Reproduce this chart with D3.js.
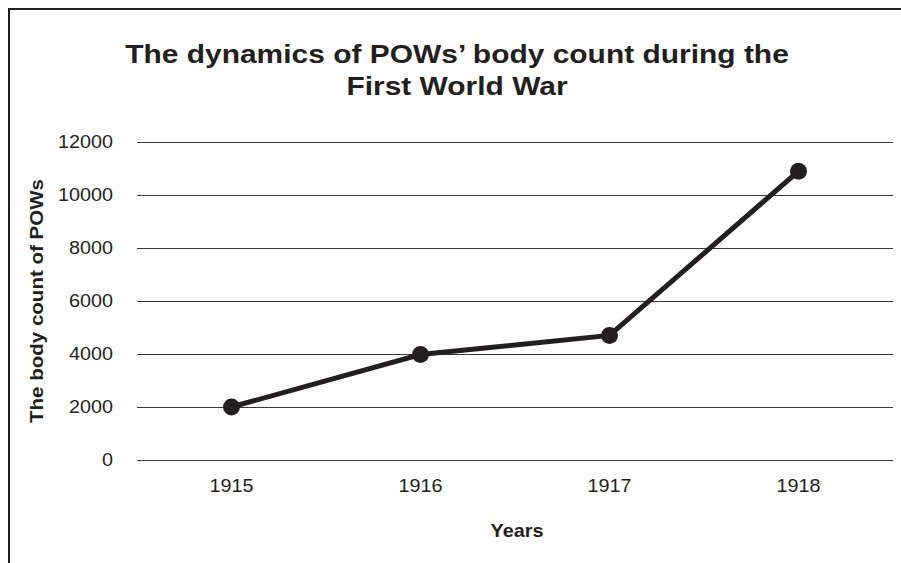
<!DOCTYPE html>
<html>
<head>
<meta charset="utf-8">
<script src="https://cdn.jsdelivr.net/npm/d3@7"></script>
<style>
  body { margin: 0; background: #fff; }
  text { font-family: "Liberation Sans", Arial, sans-serif; fill: #231f20; }
</style>
</head>
<body>
<div id="chart"></div>
<script>
var years = ["1915", "1916", "1917", "1918"];
var bodyCount = [2000, 3980, 4700, 10900];
var yTicks = [0, 2000, 4000, 6000, 8000, 10000, 12000];
var titleLines = ["The dynamics of POWs\u2019 body count during the", "First World War"];

var width = 901,
    height = 563,
    margin = {top: 142, right: 8, bottom: 103, left: 137};

// the source type is a little wider than Liberation Sans
var stretch = 1.1;

var svg = d3.select("#chart").append("svg")
    .attr("width", width)
    .attr("height", height);

// outer frame (runs past the right and bottom edges)
svg.append("rect")
    .attr("x", 9)
    .attr("y", 9)
    .attr("width", width + 20)
    .attr("height", height + 20)
    .attr("fill", "none")
    .attr("stroke", "#231f20")
    .attr("stroke-width", 2);

var x = d3.scaleBand()
    .domain(years)
    .range([margin.left, width - margin.right])
    .padding(0);

var y = d3.scaleLinear()
    .domain([0, 12000])
    .range([height - margin.bottom, margin.top]);

// gridlines
svg.append("g")
    .attr("transform", "translate(" + margin.left + ",0)")
    .call(d3.axisLeft(y).tickValues(yTicks).tickSize(-(width - margin.right - margin.left)).tickFormat(""))
    .call(function(g) { g.select(".domain").remove(); })
    .selectAll("line")
    .attr("stroke", "#3a3a3a")
    .attr("stroke-width", 1.2);

// y tick labels
svg.append("g")
    .attr("transform", "translate(" + (margin.left - 24) + ",0)")
    .call(d3.axisLeft(y).tickValues(yTicks).tickSize(0).tickPadding(0).tickFormat(d3.format("d")))
    .call(function(g) { g.select(".domain").remove(); })
    .selectAll("text")
    .attr("font-size", 18)
    .attr("font-family", "Liberation Sans, Arial, sans-serif")
    .attr("fill", "#231f20")
    .attr("transform", "scale(" + stretch + ",1)");

// x tick labels
svg.append("g")
    .attr("transform", "translate(0," + (height - margin.bottom + 19) + ")")
    .call(d3.axisBottom(x).tickSize(0).tickPadding(0))
    .call(function(g) { g.select(".domain").remove(); })
    .selectAll("text")
    .attr("font-size", 18)
    .attr("font-family", "Liberation Sans, Arial, sans-serif")
    .attr("fill", "#231f20")
    .attr("transform", "scale(" + stretch + ",1)");

// line
var line = d3.line()
    .x(function(d, i) { return x(years[i]) + x.bandwidth() / 2; })
    .y(function(d) { return y(d); });

svg.append("path")
    .datum(bodyCount)
    .attr("d", line)
    .attr("fill", "none")
    .attr("stroke", "#231f20")
    .attr("stroke-width", 5);

svg.append("g").selectAll("circle")
    .data(bodyCount)
    .enter().append("circle")
      .attr("cx", function(d, i) { return x(years[i]) + x.bandwidth() / 2; })
      .attr("cy", function(d) { return y(d); })
      .attr("r", 8.5)
      .attr("fill", "#231f20");

// title
svg.append("g").selectAll("text")
    .data(titleLines)
    .enter().append("text")
      .attr("transform", function(d, i) { return "translate(457," + (63 + i * 32) + ")scale(1.13,1)"; })
      .attr("text-anchor", "middle")
      .attr("font-size", 26.5)
      .attr("font-weight", "bold")
      .text(function(d) { return d; });

// axis titles
svg.append("text")
    .attr("transform", "translate(" + (x.range()[0] + (x.range()[1] - x.range()[0]) / 2 + 2) + ",537)scale(" + stretch + ",1)")
    .attr("text-anchor", "middle")
    .attr("font-size", 18)
    .attr("font-weight", "bold")
    .text("Years");

svg.append("text")
    .attr("transform", "translate(43," + ((y.range()[0] + y.range()[1]) / 2) + ")rotate(-90)scale(1.14,1)")
    .attr("text-anchor", "middle")
    .attr("font-size", 18)
    .attr("font-weight", "bold")
    .text("The body count of POWs");
</script>
</body>
</html>
